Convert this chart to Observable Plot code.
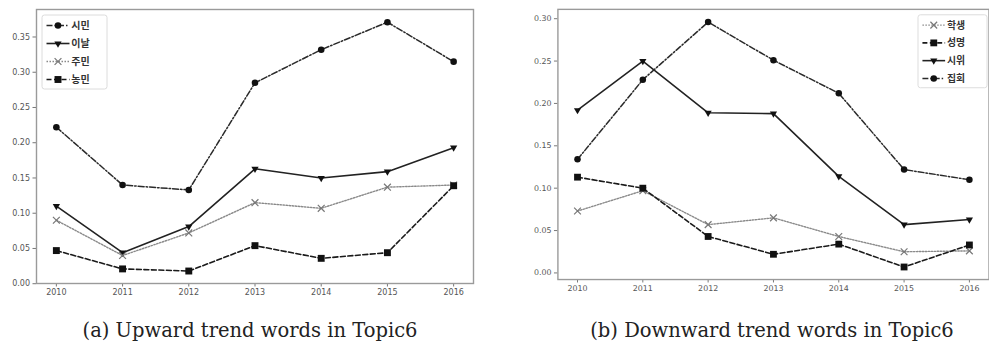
<!DOCTYPE html>
<html><head><meta charset="utf-8">
<script src="https://cdn.jsdelivr.net/npm/d3@7"></script>
<script src="https://cdn.jsdelivr.net/npm/@observablehq/plot@0.6"></script>
<style>
html,body{margin:0;padding:0;background:#fff;}
#wrap{position:relative;width:989px;height:343px;overflow:hidden;}
.panel{position:absolute;top:0;}
.cap{position:absolute;top:319px;font-family:"DejaVu Serif",serif;font-size:19.5px;line-height:23px;color:#222;text-align:center;white-space:nowrap;}
</style></head>
<body><div id="wrap"></div>
<script>
const years = [2010, 2011, 2012, 2013, 2014, 2015, 2016];
const yTicksUp = [0, 0.05, 0.10, 0.15, 0.20, 0.25, 0.30, 0.35];
const yTicksDown = [0, 0.05, 0.10, 0.15, 0.20, 0.25, 0.30];

// (a) upward trend words
const upNames = ["시민", "이날", "주민", "농민"];
const up1 = [0.222, 0.140, 0.133, 0.285, 0.332, 0.371, 0.315];
const up2 = [0.110, 0.044, 0.081, 0.163, 0.150, 0.159, 0.193];
const up3 = [0.090, 0.040, 0.072, 0.115, 0.107, 0.137, 0.140];
const up4 = [0.047, 0.021, 0.018, 0.054, 0.036, 0.044, 0.139];

// (b) downward trend words
const downNames = ["학생", "성명", "시위", "집회"];
const down1 = [0.073, 0.097, 0.057, 0.065, 0.043, 0.025, 0.026];
const down2 = [0.113, 0.100, 0.043, 0.022, 0.034, 0.007, 0.033];
const down3 = [0.192, 0.250, 0.189, 0.188, 0.114, 0.057, 0.063];
const down4 = [0.134, 0.228, 0.296, 0.251, 0.212, 0.122, 0.110];

const styles = {
  dashdot: {stroke: "#2a2a2a", dash: "6,2,1.5,2", width: 1.5, symbol: "circle", rot: 0, r: 3.3, fill: "#111", mstroke: "none"},
  solid:   {stroke: "#222", dash: null, width: 1.6, symbol: "triangle", rot: 180, r: 2.7, fill: "#111", mstroke: "none"},
  dotted:  {stroke: "#8a8a8a", dash: "1.5,1.5", width: 1.4, symbol: "times", rot: 0, r: 3.2, fill: "none", mstroke: "#777"},
  dashed:  {stroke: "#1a1a1a", dash: "5,2.5", width: 1.6, symbol: "square", rot: 0, r: 3.9, fill: "#111", mstroke: "none"}
};

function table(names, arrs) {
  return names.flatMap((n, i) => years.map((y, j) => ({series: n, year: y, value: arrs[i][j]})));
}
const upData = table(upNames, [up1, up2, up3, up4]);
const downData = table(downNames, [down1, down2, down3, down4]);
const upStyle = {"시민": "dashdot", "이날": "solid", "주민": "dotted", "농민": "dashed"};
const downStyle = {"학생": "dotted", "성명": "dashed", "시위": "solid", "집회": "dashdot"};

function seriesMarks(data, names, styleMap) {
  const marks = [];
  for (const n of names) {
    const s = styles[styleMap[n]];
    const d = data.filter(r => r.series === n);
    marks.push(Plot.line(d, {x: "year", y: "value", stroke: s.stroke, strokeWidth: s.width, strokeDasharray: s.dash}));
  }
  for (const n of names) {
    const s = styles[styleMap[n]];
    const d = data.filter(r => r.series === n);
    marks.push(Plot.dot(d, {x: "year", y: "value", symbol: () => s.symbol, r: s.r, rotate: s.rot, fill: s.fill, stroke: s.mstroke, strokeWidth: 1.2}));
  }
  return marks;
}

function makePlot(data, names, styleMap, opts) {
  return Plot.plot({
    width: opts.width, height: 305,
    marginLeft: opts.ml, marginRight: opts.mr, marginTop: 9, marginBottom: 22,
    style: {fontFamily: "DejaVu Sans, sans-serif", fontSize: "8px", color: "#555", background: "transparent"},
    x: {domain: [2009.7, 2016.3], label: null},
    y: {domain: opts.ydomain, label: null},
    marks: [
      Plot.axisX({ticks: years, tickFormat: d => String(d), tickSize: 3.5, tickPadding: 2.5, stroke: "#777", fill: "#555", fontSize: 8}),
      Plot.axisY({ticks: opts.yticks, tickFormat: d3.format(".2f"), tickSize: 3.5, tickPadding: 3, stroke: "#777", fill: "#555", fontSize: 8}),
      ...seriesMarks(data, names, styleMap),
      Plot.frame({stroke: "#9a9a9a", strokeWidth: 1.4})
    ]
  });
}

function addLegend(svg, names, styleMap, x0, y0, boxW) {
  const g = d3.select(svg).append("g");
  g.append("rect").attr("x", x0).attr("y", y0).attr("width", boxW).attr("height", 74)
    .attr("rx", 2.5).attr("fill", "#fff").attr("fill-opacity", 0.85).attr("stroke", "#dcdcdc").attr("stroke-width", 1);
  names.forEach((n, i) => {
    const s = styles[styleMap[n]];
    const cy = y0 + 10.5 + i * 18;
    const lx = x0 + 4.5;
    g.append("line").attr("x1", lx).attr("x2", lx + 23).attr("y1", cy).attr("y2", cy)
      .attr("stroke", s.stroke).attr("stroke-width", s.width).attr("stroke-dasharray", s.dash);
    const symType = {circle: d3.symbolCircle, triangle: d3.symbolTriangle, times: d3.symbolTimes, square: d3.symbolSquare}[s.symbol];
    g.append("path").attr("d", d3.symbol(symType, s.r * s.r * Math.PI)())
      .attr("transform", `translate(${lx + 11.5},${cy}) rotate(${s.rot})`)
      .attr("fill", s.fill).attr("stroke", s.mstroke).attr("stroke-width", 1.2);
    g.append("text").attr("x", lx + 34).attr("y", cy).attr("dy", "0.35em")
      .attr("font-family", "Noto Sans CJK KR, sans-serif").attr("font-size", 10).attr("font-weight", 600).attr("fill", "#333").text(n);
  });
}

const wrap = document.getElementById("wrap");

const left = makePlot(upData, upNames, upStyle, {width: 495, ml: 36, mr: 22, ydomain: [0.0003, 0.389], yticks: yTicksUp});
addLegend(left, upNames, upStyle, 42, 15, 65);
const lp = document.createElement("div"); lp.className = "panel"; lp.style.left = "0px"; lp.appendChild(left);
wrap.appendChild(lp);

const right = makePlot(downData, downNames, downStyle, {width: 501, ml: 63.3, mr: 0.5, ydomain: [-0.0078, 0.311], yticks: yTicksDown});
addLegend(right, downNames, downStyle, 429, 15, 70);
const rp = document.createElement("div"); rp.className = "panel"; rp.style.left = "495px"; rp.appendChild(right);
wrap.appendChild(rp);

const c1 = document.createElement("div"); c1.className = "cap"; c1.style.left = "0px"; c1.style.width = "500px";
c1.textContent = "(a) Upward trend words in Topic6"; wrap.appendChild(c1);
const c2 = document.createElement("div"); c2.className = "cap"; c2.style.left = "522px"; c2.style.width = "500px";
c2.textContent = "(b) Downward trend words in Topic6"; wrap.appendChild(c2);
</script></body></html>
